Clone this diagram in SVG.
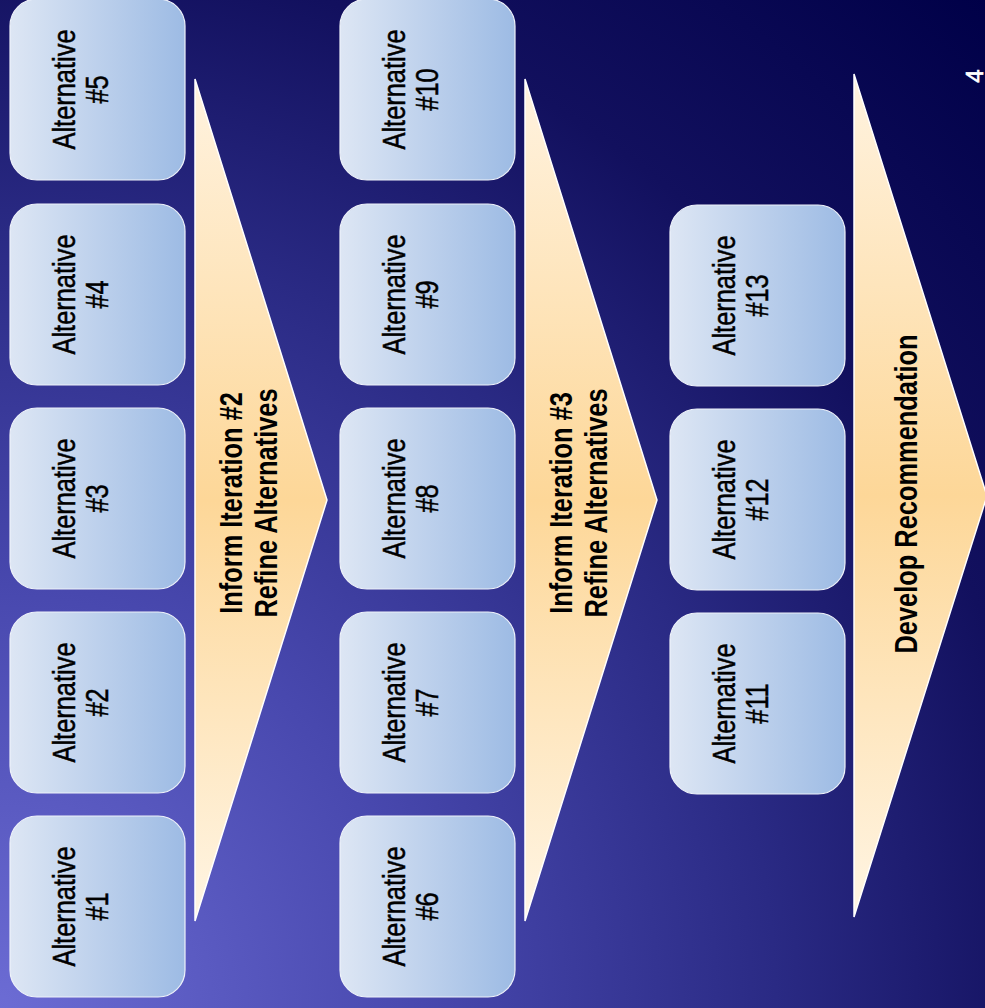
<svg xmlns="http://www.w3.org/2000/svg" width="985" height="1008" viewBox="0 0 985 1008">
<defs>
<radialGradient id="bg" gradientUnits="userSpaceOnUse" cx="0" cy="1008" r="1410">
<stop offset="0" stop-color="#6C6CD4"/>
<stop offset="0.3" stop-color="#4848AE"/>
<stop offset="0.55" stop-color="#2A2A84"/>
<stop offset="0.75" stop-color="#12105E"/>
<stop offset="1" stop-color="#000048"/>
</radialGradient>
<linearGradient id="box" x1="0" y1="0" x2="1" y2="0">
<stop offset="0" stop-color="#DDE6F4"/>
<stop offset="1" stop-color="#9DBBE4"/>
</linearGradient>
<linearGradient id="arr" x1="0" y1="0" x2="0" y2="1">
<stop offset="0" stop-color="#FFF3E0"/>
<stop offset="0.5" stop-color="#FDD798"/>
<stop offset="1" stop-color="#FFF5E4"/>
</linearGradient>
<style>
.box{fill:url(#box);stroke:#EEF2FA;stroke-width:1.2}
.arrow{fill:url(#arr);stroke:#FFFFFF;stroke-width:1.5;stroke-linejoin:miter}
.bt{font-family:"Liberation Sans",Arial,sans-serif;font-size:31px;fill:#000;stroke:#000;stroke-width:0.5;text-anchor:middle}
.at{font-family:"Liberation Sans",Arial,sans-serif;font-size:31px;font-weight:bold;fill:#000;text-anchor:middle}
.pg{font-family:"Liberation Sans",Arial,sans-serif;font-size:24px;fill:#FFF;stroke:#FFF;stroke-width:0.6;text-anchor:middle}
</style>
</defs>
<rect width="985" height="1008" fill="url(#bg)"/>

<g id="arrow1">
<polygon class="arrow" points="195,79 327,500 195,921"/>
<text class="at" transform="translate(242,503) rotate(-90) scale(0.82,1)"><tspan x="0" y="0">Inform Iteration #2</tspan><tspan x="0" y="35">Refine Alternatives</tspan></text>
</g>
<g id="arrow2">
<polygon class="arrow" points="525,79 657,500 525,921"/>
<text class="at" transform="translate(572,503) rotate(-90) scale(0.82,1)"><tspan x="0" y="0">Inform Iteration #3</tspan><tspan x="0" y="35">Refine Alternatives</tspan></text>
</g>
<g id="arrow3">
<polygon class="arrow" points="854,74 987,496 854,917"/>
<text class="at" transform="translate(917,494) rotate(-90) scale(0.82,1)">Develop Recommendation</text>
</g>

<g id="alt1"><rect class="box" x="10" y="816" width="175" height="181" rx="27"/><text class="bt" transform="translate(75,906.5) rotate(-90) scale(0.82,1)"><tspan x="0" y="0">Alternative</tspan><tspan x="0" y="33">#1</tspan></text></g>
<g id="alt2"><rect class="box" x="10" y="612" width="175" height="181" rx="27"/><text class="bt" transform="translate(75,702.5) rotate(-90) scale(0.82,1)"><tspan x="0" y="0">Alternative</tspan><tspan x="0" y="33">#2</tspan></text></g>
<g id="alt3"><rect class="box" x="10" y="408" width="175" height="181" rx="27"/><text class="bt" transform="translate(75,498.5) rotate(-90) scale(0.82,1)"><tspan x="0" y="0">Alternative</tspan><tspan x="0" y="33">#3</tspan></text></g>
<g id="alt4"><rect class="box" x="10" y="204" width="175" height="181" rx="27"/><text class="bt" transform="translate(75,294.5) rotate(-90) scale(0.82,1)"><tspan x="0" y="0">Alternative</tspan><tspan x="0" y="33">#4</tspan></text></g>
<g id="alt5"><rect class="box" x="10" y="-1" width="175" height="181" rx="27"/><text class="bt" transform="translate(75,89.5) rotate(-90) scale(0.82,1)"><tspan x="0" y="0">Alternative</tspan><tspan x="0" y="33">#5</tspan></text></g>

<g id="alt6"><rect class="box" x="340" y="816" width="175" height="181" rx="27"/><text class="bt" transform="translate(405,906.5) rotate(-90) scale(0.82,1)"><tspan x="0" y="0">Alternative</tspan><tspan x="0" y="33">#6</tspan></text></g>
<g id="alt7"><rect class="box" x="340" y="612" width="175" height="181" rx="27"/><text class="bt" transform="translate(405,702.5) rotate(-90) scale(0.82,1)"><tspan x="0" y="0">Alternative</tspan><tspan x="0" y="33">#7</tspan></text></g>
<g id="alt8"><rect class="box" x="340" y="408" width="175" height="181" rx="27"/><text class="bt" transform="translate(405,498.5) rotate(-90) scale(0.82,1)"><tspan x="0" y="0">Alternative</tspan><tspan x="0" y="33">#8</tspan></text></g>
<g id="alt9"><rect class="box" x="340" y="204" width="175" height="181" rx="27"/><text class="bt" transform="translate(405,294.5) rotate(-90) scale(0.82,1)"><tspan x="0" y="0">Alternative</tspan><tspan x="0" y="33">#9</tspan></text></g>
<g id="alt10"><rect class="box" x="340" y="-1" width="175" height="181" rx="27"/><text class="bt" transform="translate(405,89.5) rotate(-90) scale(0.82,1)"><tspan x="0" y="0">Alternative</tspan><tspan x="0" y="33">#10</tspan></text></g>

<g id="alt11"><rect class="box" x="670" y="613" width="175" height="181" rx="27"/><text class="bt" transform="translate(735,703.5) rotate(-90) scale(0.82,1)"><tspan x="0" y="0">Alternative</tspan><tspan x="0" y="33">#11</tspan></text></g>
<g id="alt12"><rect class="box" x="670" y="409" width="175" height="181" rx="27"/><text class="bt" transform="translate(735,499.5) rotate(-90) scale(0.82,1)"><tspan x="0" y="0">Alternative</tspan><tspan x="0" y="33">#12</tspan></text></g>
<g id="alt13"><rect class="box" x="670" y="205" width="175" height="181" rx="27"/><text class="bt" transform="translate(735,295.5) rotate(-90) scale(0.82,1)"><tspan x="0" y="0">Alternative</tspan><tspan x="0" y="33">#13</tspan></text></g>

<text class="pg" transform="translate(983,76) rotate(-90)">4</text>
</svg>
